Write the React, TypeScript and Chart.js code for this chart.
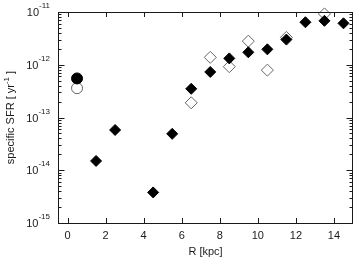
import React, { useEffect, useRef } from "react";
import { Chart, registerables } from "chart.js";
Chart.register(...registerables);

const filledCircleR = [0.5];
const filledCircleSSFR = [5.5e-13];
const openCircleR = [0.5];
const openCircleSSFR = [3.6e-13];
const filledDiamondR = [1.5, 2.5, 4.5, 5.5, 6.5, 7.5, 8.5, 9.5, 10.5, 11.5, 12.5, 13.5, 14.5];
const filledDiamondSSFR = [1.5e-14, 5.8e-14, 3.8e-15, 4.9e-14, 3.5e-13, 7.3e-13, 1.32e-12, 1.72e-12, 1.96e-12, 3.0e-12, 6.4e-12, 6.8e-12, 6.1e-12];
const openDiamondR = [6.5, 7.5, 8.5, 9.5, 10.5, 11.5, 13.5];
const openDiamondSSFR = [1.9e-13, 1.38e-12, 9.2e-13, 2.8e-12, 7.9e-13, 3.3e-12, 9.2e-12];
const xTickValues = [0, 2, 4, 6, 8, 10, 12, 14];
const yDecadeExponents = [-11, -12, -13, -14, -15];
const xTitle = "R [kpc]";
const yTitleMain = "specific SFR [ yr";
const yTitleExp = "-1";
const yTitleEnd = " ]";

const FONT = "'Liberation Sans', Arial, Helvetica, sans-serif";
const INK = "#1a1a1a";

const pts = (xs: number[], ys: number[]) => xs.map((x, i) => ({ x, y: ys[i] }));

const framePlugin = {
  id: "frame",
  afterDraw(chart: any) {
    const { ctx, chartArea: a, scales } = chart;
    const xs = scales.x;
    const ys = scales.y;
    ctx.save();
    ctx.strokeStyle = INK;
    ctx.lineWidth = 1;
    ctx.strokeRect(a.left + 0.5, a.top + 0.5, a.right - a.left - 1, a.bottom - a.top);
    ctx.beginPath();
    for (const v of xTickValues) {
      const px = Math.round(xs.getPixelForValue(v)) + 0.5;
      ctx.moveTo(px, a.bottom);
      ctx.lineTo(px, a.bottom - 5);
      ctx.moveTo(px, a.top);
      ctx.lineTo(px, a.top + 5);
    }
    for (const e of yDecadeExponents) {
      for (let k = 1; k <= 9; k++) {
        if (e === -11 && k > 1) continue;
        const v = k * Math.pow(10, e);
        const py = Math.round(ys.getPixelForValue(v)) + 0.5;
        const len = k === 1 ? 6.5 : 3.5;
        ctx.moveTo(a.left, py);
        ctx.lineTo(a.left + len, py);
        ctx.moveTo(a.right, py);
        ctx.lineTo(a.right - len, py);
      }
    }
    ctx.stroke();

    ctx.fillStyle = INK;
    ctx.font = `11px ${FONT}`;
    ctx.textAlign = "center";
    ctx.textBaseline = "middle";
    for (const v of xTickValues) {
      ctx.fillText(String(v), xs.getPixelForValue(v), a.bottom + 13);
    }
    ctx.fillText(xTitle, (a.left + a.right) / 2, a.bottom + 29);

    for (const e of yDecadeExponents) {
      const py = ys.getPixelForValue(Math.pow(10, e));
      ctx.font = `8px ${FONT}`;
      const expStr = String(e);
      const ew = ctx.measureText(expStr).width;
      ctx.textAlign = "left";
      ctx.textBaseline = "middle";
      const right = a.left - 8;
      ctx.fillText(expStr, right - ew, py - 6);
      ctx.font = `11px ${FONT}`;
      ctx.textAlign = "right";
      ctx.fillText("10", right - ew, py + 1);
    }

    ctx.save();
    ctx.translate(11, (a.top + a.bottom) / 2);
    ctx.rotate(-Math.PI / 2);
    ctx.font = `11px ${FONT}`;
    const w1 = ctx.measureText(yTitleMain).width;
    const w3 = ctx.measureText(yTitleEnd).width;
    ctx.font = `8px ${FONT}`;
    const w2 = ctx.measureText(yTitleExp).width;
    const total = w1 + w2 + w3;
    let x0 = -total / 2;
    ctx.textAlign = "left";
    ctx.textBaseline = "middle";
    ctx.font = `11px ${FONT}`;
    ctx.fillText(yTitleMain, x0, 0);
    x0 += w1;
    ctx.font = `8px ${FONT}`;
    ctx.fillText(yTitleExp, x0, -4);
    x0 += w2;
    ctx.font = `11px ${FONT}`;
    ctx.fillText(yTitleEnd, x0, 0);
    ctx.restore();

    ctx.restore();
  },
};

export default function App() {
  const ref = useRef<HTMLCanvasElement | null>(null);
  useEffect(() => {
    if (!ref.current) return;
    const chart = new Chart(ref.current, {
      type: "scatter",
      data: {
        datasets: [
          {
            data: pts(filledCircleR, filledCircleSSFR),
            pointStyle: "circle",
            pointRadius: 5.5,
            pointBackgroundColor: "#000",
            pointBorderColor: "#000",
            pointBorderWidth: 1,
            order: 1,
          },
          {
            data: pts(filledDiamondR, filledDiamondSSFR),
            pointStyle: "rectRot",
            pointRadius: 5.5,
            pointBackgroundColor: "#000",
            pointBorderColor: "#000",
            pointBorderWidth: 1,
            order: 2,
          },
          {
            data: pts(openCircleR, openCircleSSFR),
            pointStyle: "circle",
            pointRadius: 5.5,
            pointBackgroundColor: "#fff",
            pointBorderColor: "#666",
            pointBorderWidth: 1,
            order: 3,
          },
          {
            data: pts(openDiamondR, openDiamondSSFR),
            pointStyle: "rectRot",
            pointRadius: 6,
            pointBackgroundColor: "#fff",
            pointBorderColor: "#666",
            pointBorderWidth: 1,
            order: 4,
          },
        ],
      },
      options: {
        animation: false,
        responsive: false,
        maintainAspectRatio: false,
        clip: false,
        layout: { padding: { left: 58, top: 12, right: 2, bottom: 38 } },
        plugins: { legend: { display: false }, tooltip: { enabled: false } },
        scales: {
          x: { type: "linear", min: -0.5, max: 15, display: false },
          y: { type: "logarithmic", min: 1e-15, max: 1e-11, display: false },
        },
      },
      plugins: [framePlugin],
    } as any);
    return () => chart.destroy();
  }, []);
  return (
    <div style={{ position: "fixed", left: 0, top: 0, width: 360, height: 261, background: "#fff" }}>
      <canvas ref={ref} width={360} height={261} style={{ width: 360, height: 261 }} />
    </div>
  );
}
